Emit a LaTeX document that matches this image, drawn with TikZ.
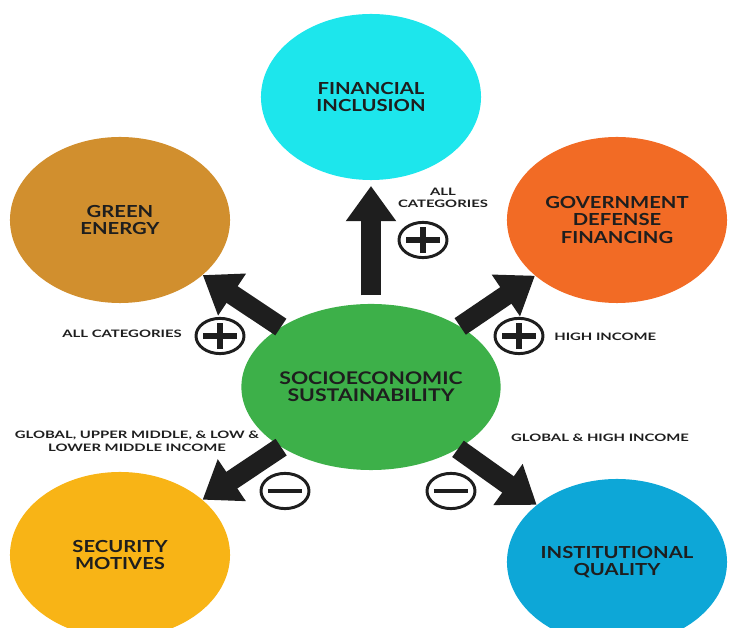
\documentclass[tikz,border=0pt]{standalone}
\usepackage{fontspec}
\usepackage{tikz}
\usetikzlibrary{shapes.geometric,arrows.meta}
\setmainfont{Lato}[FakeStretch=1.22]
\newfontfamily\notefont{Lato}[FakeStretch=1.45]

\definecolor{fincyan}{HTML}{1DE6EC}
\definecolor{enbrown}{HTML}{D18F2E}
\definecolor{govorange}{HTML}{F26B25}
\definecolor{susgreen}{HTML}{3DB049}
\definecolor{secyellow}{HTML}{F8B416}
\definecolor{instblue}{HTML}{0DA7D7}
\definecolor{ink}{HTML}{1E1E1E}

\tikzset{
  topic/.style={ellipse, minimum width=5.5cm, minimum height=4.15cm, inner sep=0pt,
    align=center, text=ink, font=\bfseries\fontsize{11.8}{12.6}\selectfont},
  note/.style={align=center, text=ink, inner sep=0pt,
    font=\notefont\bfseries\fontsize{7.3}{8.4}\selectfont},
  bigarrow/.style={draw=ink, line width=0.5cm, -{Triangle[length=0.88cm,width=1.2cm]}},
  sign/.style={ellipse, draw=ink, line width=2.1pt, minimum width=1.2cm, minimum height=0.88cm, inner sep=0pt},
  plus/.style={sign, path picture={
    \draw[ink, line width=3.6pt] (path picture bounding box.center) ++(-0.42cm,0) -- ++(0.84cm,0);
    \draw[ink, line width=3.6pt] (path picture bounding box.center) ++(0,-0.33cm) -- ++(0,0.66cm);}},
  minus/.style={sign, path picture={
    \draw[ink, line width=3.4pt] (path picture bounding box.center) ++(-0.43cm,0) -- ++(0.86cm,0);}}
}

\begin{document}
\begin{tikzpicture}[x=0.025cm, y=-0.025cm]

\useasboundingbox (0,0) rectangle (733,628);
\clip (0,0) rectangle (733,628);

\node [topic, fill=fincyan] (fin) at (371,97) {FINANCIAL\\INCLUSION};
\node [topic, fill=enbrown] (gen) at (120,220) {GREEN\\ENERGY};
\node [topic, fill=govorange] (gov) at (617,220) {GOVERNMENT\\DEFENSE\\FINANCING};
\node [topic, fill=susgreen, font=\bfseries\fontsize{12.4}{12.2}\selectfont] (sus) at (371,387) {SOCIOECONOMIC\\SUSTAINABILITY};
\node [topic, fill=secyellow] (sec) at (120,555) {SECURITY\\MOTIVES};
\node [topic, fill=instblue] (inst) at (617,562) {INSTITUTIONAL\\QUALITY};

\draw [bigarrow, shorten <=6pt, shorten >=4pt] (sus) -- (fin);
\draw [bigarrow] (sus) -- (gen);
\draw [bigarrow] (sus) -- (gov);
\draw [bigarrow] (sus) -- (sec);
\draw [bigarrow] (sus) -- (inst);

\node [plus] (pfin) at (423,240) {};
\node [plus] (pgen) at (220,336) {};
\node [plus] (pgov) at (519,336) {};
\node [minus] (msec) at (285,491) {};
\node [minus] (minst) at (451,491) {};

\node [note] (nfin) at (443,198) {ALL\\CATEGORIES};
\node [note, anchor=east] (ngen) at (182,334) {ALL CATEGORIES};
\node [note, anchor=west] (ngov) at (554,337) {HIGH INCOME};
\node [note, font=\notefont\bfseries\fontsize{7.3}{9.2}\selectfont] (nsec) at (137,441) {GLOBAL, UPPER MIDDLE, \& LOW \&\\LOWER MIDDLE INCOME};
\node [note] (ninst) at (600,438) {GLOBAL \& HIGH INCOME};

\end{tikzpicture}
\end{document}
